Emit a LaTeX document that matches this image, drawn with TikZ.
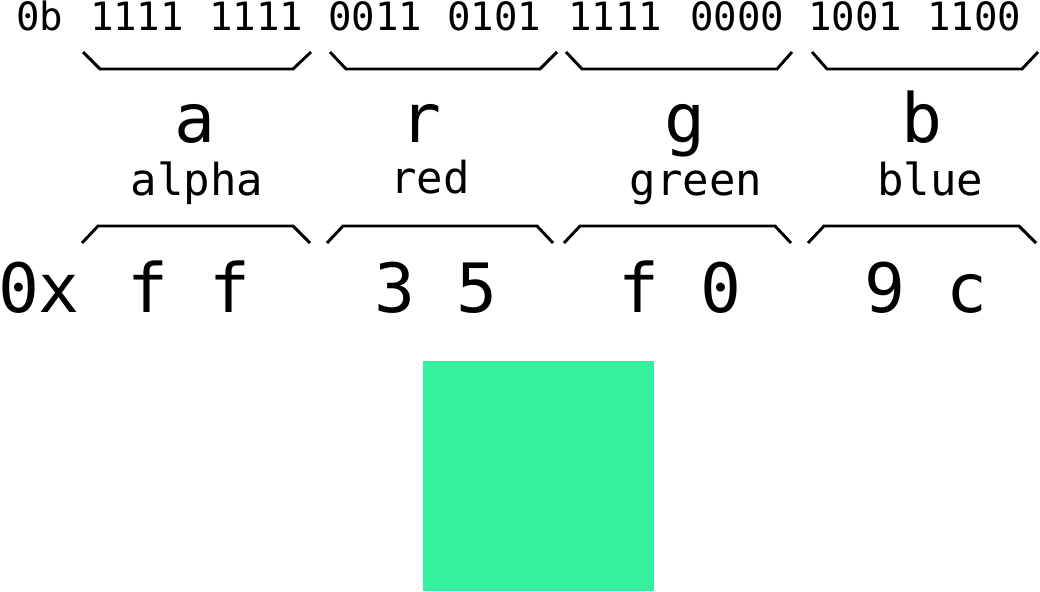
\documentclass[tikz,border=0pt]{standalone}
\usepackage{fontspec}
\setmonofont{DejaVu Sans Mono}
\definecolor{argbgreen}{HTML}{35F09C}
\begin{document}
\begin{tikzpicture}[x=1pt,y=-1pt,
  bin/.style={anchor=base,inner sep=0pt,font=\ttfamily\fontsize{39}{39}\selectfont},
  hex/.style={anchor=base,inner sep=0pt,font=\ttfamily\fontsize{68}{68}\selectfont},
  big/.style={anchor=base,inner sep=0pt,font=\ttfamily\fontsize{68}{68}\selectfont},
  sub/.style={anchor=base,inner sep=0pt,font=\ttfamily\fontsize{44}{44}\selectfont},
  brace/.style={line width=2.9pt,line join=miter}]
\useasboundingbox (0,0) rectangle (1040,591);
% binary row
\node[bin] (b0) at (40,31) {0b};
\node[bin] (b1) at (137,31) {1111};
\node[bin] (b2) at (256,31) {1111};
\node[bin] (b3) at (375,31) {0011};
\node[bin] (b4) at (494,31) {0101};
\node[bin] (b5) at (615,31) {1111};
\node[bin] (b6) at (737,31) {0000};
\node[bin] (b7) at (855,31) {1001};
\node[bin] (b8) at (974,31) {1100};
% top braces
\draw[brace] (83,52) -- (100,69) -- (293,69) -- (311,52);
\draw[brace] (330,52) -- (346,69) -- (540,69) -- (557,52);
\draw[brace] (566,52) -- (582,69) -- (777,69) -- (792,52);
\draw[brace] (812,52) -- (827,69) -- (1022,69) -- (1038,52);
% channel letters
\node[big] (la) at (195,142) {a};
\node[big] (lr) at (421,142) {r};
\node[big] (lg) at (685,142) {g};
\node[big] (lb) at (922,142) {b};
\node[sub] (na) at (197,195) {alpha};
\node[sub] (nr) at (430,193) {red};
\node[sub] (ng) at (696,195) {green};
\node[sub] (nb) at (930,195) {blue};
% bottom braces
\draw[brace] (82,243) -- (98,226) -- (293,226) -- (310,243);
\draw[brace] (327,243) -- (343,226) -- (537,226) -- (553,243);
\draw[brace] (564,243) -- (580,226) -- (775,226) -- (791,243);
\draw[brace] (808,243) -- (824,226) -- (1019,226) -- (1036,243);
% hex row
\node[hex] (h0) at (39,312) {0x};
\node[hex] (h1) at (189,312) {f f};
\node[hex] (h2) at (436,312) {3 5};
\node[hex] (h3) at (680,312) {f 0};
\node[hex] (h4) at (926,312) {9 c};
% colour swatch
\fill[argbgreen] (423,361) rectangle (654,591);
\end{tikzpicture}
\end{document}
